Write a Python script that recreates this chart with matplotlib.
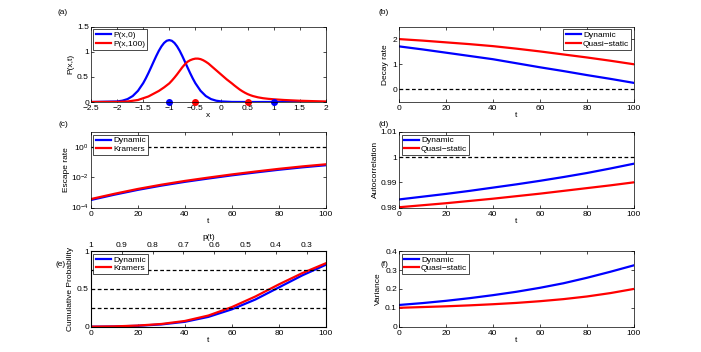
import matplotlib
matplotlib.use("Agg")
import matplotlib.pyplot as plt

plt.rcParams['font.family'] = ['Liberation Sans', 'DejaVu Sans']
plt.rcParams['font.size'] = 6

# ---- data ----
# (a) distributions
x_a = [-2.5, -2.0, -1.9, -1.8, -1.7, -1.6, -1.5, -1.45, -1.4, -1.35, -1.3, -1.25, -1.2, -1.15,
       -1.1, -1.05, -1.0, -0.95, -0.9, -0.85, -0.8, -0.75, -0.7, -0.65, -0.6, -0.55, -0.5,
       -0.4, -0.3, -0.2, -0.1, 0.0, 0.2, 0.5, 1.0, 2.0]
p_x0 = [0.0, 0.011, 0.026, 0.058, 0.119, 0.222, 0.374, 0.469, 0.574, 0.686, 0.801, 0.913,
        1.017, 1.105, 1.173, 1.216, 1.23, 1.216, 1.173, 1.105, 1.017, 0.913, 0.801, 0.686,
        0.574, 0.469, 0.374, 0.222, 0.119, 0.058, 0.026, 0.011, 0.001, 0.0, 0.0, 0.0]
x_r = [-2.5, -2.0, -1.8, -1.6, -1.4, -1.2, -1.1, -1.0, -0.95, -0.9, -0.85, -0.8, -0.75, -0.7,
       -0.65, -0.6, -0.55, -0.5, -0.45, -0.4, -0.35, -0.3, -0.25, -0.2, -0.15, -0.1, -0.05,
       0.0, 0.05, 0.1, 0.15, 0.2, 0.25, 0.3, 0.35, 0.4, 0.45, 0.5, 0.55, 0.6, 0.7, 0.8, 0.9,
       1.0, 1.2, 1.5, 2.0]
p_x100 = [0.0, 0.002, 0.01, 0.04, 0.11, 0.22, 0.29, 0.37, 0.425, 0.485, 0.55, 0.62, 0.69,
          0.75, 0.80, 0.83, 0.85, 0.862, 0.862, 0.852, 0.83, 0.80, 0.765, 0.72, 0.675, 0.63,
          0.585, 0.54, 0.495, 0.45, 0.41, 0.37, 0.327, 0.287, 0.248, 0.214, 0.184, 0.158,
          0.137, 0.119, 0.093, 0.075, 0.063, 0.054, 0.04, 0.025, 0.01]
wells_0 = [-1, 1]
wells_100 = [-0.5, 0.5]

t = [0, 10, 20, 30, 40, 50, 60, 70, 80, 90, 100]
# (b) decay rate
decay_dyn = [1.71, 1.59, 1.46, 1.33, 1.20, 1.04, 0.88, 0.73, 0.57, 0.42, 0.26]
decay_qs = [2.00, 1.94, 1.87, 1.80, 1.72, 1.62, 1.51, 1.39, 1.27, 1.14, 1.00]
# (c) escape rate
esc_dyn = [3.16e-4, 7.08e-4, 1.48e-3, 2.82e-3, 5.01e-3, 8.32e-3, 1.35e-2, 2.09e-2, 3.16e-2,
           4.57e-2, 6.31e-2]
esc_kr = [3.64e-4, 8.1e-4, 1.70e-3, 3.24e-3, 5.76e-3, 9.57e-3, 1.55e-2, 2.4e-2, 3.63e-2,
          5.26e-2, 7.26e-2]
# (d) autocorrelation
ac_dyn = [0.9832, 0.9843, 0.9854, 0.9866, 0.9879, 0.9892, 0.9906, 0.9921, 0.9937, 0.9955, 0.9974]
ac_qs = [0.9801, 0.9809, 0.9817, 0.9826, 0.9835, 0.9845, 0.9855, 0.9866, 0.9877, 0.9888, 0.9900]
# (e) cumulative probability
cum_dyn = [0.0, 0.003, 0.012, 0.030, 0.065, 0.13, 0.23, 0.36, 0.52, 0.68, 0.82]
cum_kr = [0.0, 0.004, 0.015, 0.036, 0.076, 0.148, 0.26, 0.40, 0.56, 0.71, 0.84]
p_ticks = [1, 0.9, 0.8, 0.7, 0.6, 0.5, 0.4, 0.3]
# (f) variance
var_dyn = [0.115, 0.125, 0.137, 0.151, 0.167, 0.185, 0.206, 0.230, 0.259, 0.291, 0.325]
var_qs = [0.100, 0.104, 0.108, 0.113, 0.119, 0.126, 0.135, 0.146, 0.160, 0.178, 0.200]

BLUE = '#0000ff'
RED = '#ff0000'
LW = 1.6

fig = plt.figure(figsize=(7.01, 3.52), dpi=100)

L1, L2, W = 0.1298, 0.5692, 0.335
rows = [0.7102, 0.4105, 0.0719]
H = 0.2145


def style(ax, top=True):
    ax.tick_params(direction='in', length=2.5, width=0.5, top=top, right=True, labelsize=6)
    ax.tick_params(axis='x', pad=2.5)
    ax.tick_params(axis='y', pad=1.5)
    for s in ax.spines.values():
        s.set_linewidth(0.5)


def legend(ax, loc):
    lg = ax.legend(loc=loc, fontsize=6, fancybox=False, framealpha=1, edgecolor='black',
                   handlelength=1.8, borderpad=0.25, labelspacing=0.1, handletextpad=0.3,
                   borderaxespad=0.3)
    lg.get_frame().set_linewidth(0.5)


def panel_label(x, y, s):
    fig.text(x / 701, 1 - y / 352, s, ha='center', va='center', fontsize=6)


# (a)
ax = fig.add_axes([L1, rows[0], W, H])
ax.plot(x_a, p_x0, color=BLUE, lw=LW, label='P(x,0)')
ax.plot(x_r, p_x100, color=RED, lw=LW, label='P(x,100)')
ax.plot(wells_0, [0, 0], 'o', color=BLUE, ms=4, clip_on=False)
ax.plot(wells_100, [0, 0], 'o', color=RED, ms=4, clip_on=False)
ax.set_xlim(-2.5, 2)
ax.set_ylim(0, 1.5)
ax.set_xticks([-2.5, -2, -1.5, -1, -0.5, 0, 0.5, 1, 1.5, 2])
ax.set_xticklabels(['\u22122.5', '\u22122', '\u22121.5', '\u22121', '\u22120.5', '0', '0.5', '1', '1.5', '2'])
ax.set_yticks([0, 0.5, 1, 1.5])
ax.set_yticklabels(['0', '0.5', '1', '1.5'])
ax.set_xlabel('x', labelpad=0)
ax.set_ylabel('P(x,t)', labelpad=2)
style(ax)
legend(ax, 'upper left')
panel_label(63, 12, '(a)')

# (b)
ax = fig.add_axes([L2, rows[0], W, H])
ax.plot(t, decay_dyn, color=BLUE, lw=LW, label='Dynamic')
ax.plot(t, decay_qs, color=RED, lw=LW, label='Quasi\u2212static')
ax.axhline(0, color='black', ls='--', lw=0.9, dashes=(3, 2))
ax.set_xlim(0, 100)
ax.set_ylim(-0.5, 2.5)
ax.set_yticks([0, 1, 2])
ax.set_xlabel('t', labelpad=0)
ax.set_ylabel('Decay rate', labelpad=2)
style(ax)
legend(ax, 'upper right')
panel_label(384, 12, '(b)')

# (c)
ax = fig.add_axes([L1, rows[1], W, H])
ax.semilogy(t, esc_dyn, color=BLUE, lw=LW, label='Dynamic')
ax.semilogy(t, esc_kr, color=RED, lw=LW, label='Kramers')
ax.axhline(1, color='black', ls='--', lw=0.9, dashes=(3, 2))
ax.set_xlim(0, 100)
ax.set_ylim(1e-4, 1e1)
ax.set_yticks([1e-4, 1e-2, 1e0])
ax.minorticks_off()
ax.set_xlabel('t', labelpad=0)
ax.set_ylabel('Escape rate', labelpad=1)
style(ax)
legend(ax, 'upper left')
panel_label(63, 124, '(c)')

# (d)
ax = fig.add_axes([L2, rows[1], W, H])
ax.plot(t, ac_dyn, color=BLUE, lw=LW, label='Dynamic')
ax.plot(t, ac_qs, color=RED, lw=LW, label='Quasi\u2212static')
ax.axhline(1, color='black', ls='--', lw=0.9, dashes=(3, 2))
ax.set_xlim(0, 100)
ax.set_ylim(0.98, 1.01)
ax.set_yticks([0.98, 0.99, 1.0, 1.01])
ax.set_yticklabels(['0.98', '0.99', '1', '1.01'])
ax.set_xlabel('t', labelpad=0)
ax.set_ylabel('Autocorrelation', labelpad=1)
style(ax)
legend(ax, 'upper left')
panel_label(384, 124, '(d)')

# (e)
ax = fig.add_axes([L1, rows[2], W, H])
ax.plot(t, cum_dyn, color=BLUE, lw=LW, label='Dynamic')
ax.plot(t, cum_kr, color=RED, lw=LW, label='Kramers')
for lvl in [0.25, 0.5, 0.75]:
    ax.axhline(lvl, color='black', ls='--', lw=0.9, dashes=(3, 2))
ax.set_xlim(0, 100)
ax.set_ylim(0, 1)
ax.set_yticks([0, 0.5, 1])
ax.set_yticklabels(['0', '0.5', '1'])
ax.set_xlabel('t', labelpad=0)
ax.set_ylabel('Cumulative Probability', labelpad=2)
style(ax, top=False)
legend(ax, 'upper left')
ax2 = ax.twiny()
ax2.set_xlim(1, 0.238)
ax2.set_xticks(p_ticks)
ax2.set_xticklabels(['1', '0.9', '0.8', '0.7', '0.6', '0.5', '0.4', '0.3'])
ax2.set_xlabel('p(t)', labelpad=2)
ax2.tick_params(direction='in', length=2.5, width=0.5, pad=1.5, labelsize=6)
panel_label(61, 264, '(e)')

# (f)
ax = fig.add_axes([L2, rows[2], W, H])
ax.plot(t, var_dyn, color=BLUE, lw=LW, label='Dynamic')
ax.plot(t, var_qs, color=RED, lw=LW, label='Quasi\u2212static')
ax.set_xlim(0, 100)
ax.set_ylim(0, 0.4)
ax.set_yticks([0, 0.1, 0.2, 0.3, 0.4])
ax.set_yticklabels(['0', '0.1', '0.2', '0.3', '0.4'])
ax.set_xlabel('t', labelpad=0)
ax.set_ylabel('Variance', labelpad=2)
style(ax)
legend(ax, 'upper left')
panel_label(384, 264, '(f)')

fig.savefig('out.png', dpi=100)
